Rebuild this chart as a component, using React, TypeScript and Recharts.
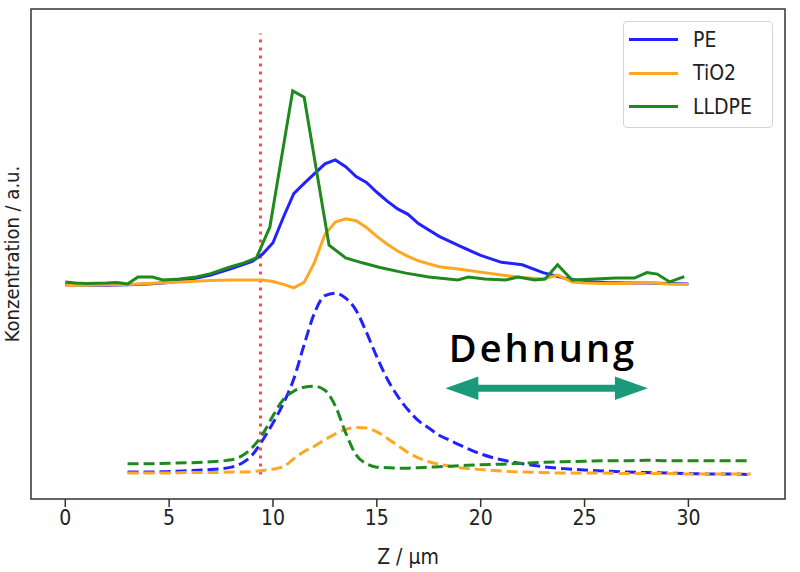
import {
  LineChart,
  Line,
  XAxis,
  YAxis,
  Legend,
  ReferenceLine,
  ReferenceArea,
  ReferenceDot,
} from "recharts";

// solid profiles (z in µm, intensity in a.u.)
const peZ = [0, 1, 2, 3, 4, 5, 6, 7, 8, 9, 9.5, 10, 10.5, 11, 11.5, 12, 12.5, 13, 13.5, 14, 14.5, 15, 15.5, 16, 16.5, 17, 18, 19, 20, 21, 22, 23, 24, 25, 26, 27, 28, 29, 30];
const peVal = [43.7, 43.6, 43.6, 43.7, 43.9, 44.2, 44.8, 45.7, 47.0, 48.5, 50.0, 52.3, 57.5, 62.3, 64.4, 66.4, 68.4, 69.2, 67.8, 65.8, 64.6, 62.6, 60.8, 59.2, 58.1, 56.2, 53.6, 51.6, 49.7, 48.3, 47.8, 46.2, 45.1, 44.4, 44.2, 44.1, 44.1, 44.0, 43.9];

const tioZ = [0, 1, 2, 3, 4, 5, 6, 7, 8, 9, 9.5, 10, 10.5, 11, 11.5, 12, 12.5, 13, 13.5, 14, 14.5, 15, 15.5, 16, 16.5, 17, 18, 19, 20, 21, 22, 23, 23.7, 24.4, 25, 26, 27, 28, 29, 30];
const tioVal = [43.6, 43.6, 43.7, 43.8, 44.0, 44.2, 44.4, 44.6, 44.7, 44.7, 44.7, 44.4, 43.8, 43.1, 44.2, 48.3, 54.0, 56.5, 57.2, 56.8, 55.4, 53.6, 52.0, 50.6, 49.5, 48.6, 47.4, 46.9, 46.3, 45.7, 45.2, 44.9, 45.7, 44.3, 44.1, 44.0, 44.0, 44.2, 43.9, 43.8];

const lldpeZ = [0, 0.5, 1, 2, 2.5, 3, 3.5, 4.2, 4.7, 5.5, 6.3, 7, 7.9, 8.6, 9.2, 9.85, 10.95, 11.5, 12.7, 13.5, 14.3, 15.1, 16.4, 17.5, 18.9, 19.4, 20.2, 21.2, 21.8, 22.6, 23.1, 23.7, 24.4, 25.5, 26.5, 27.4, 28.0, 28.5, 29.1, 29.8];
const lldpeVal = [44.3, 44.1, 44.0, 44.1, 44.2, 43.9, 45.3, 45.3, 44.7, 44.9, 45.3, 46.0, 47.3, 48.2, 49.2, 55.5, 83.3, 82.0, 51.8, 49.2, 48.2, 47.3, 46.1, 45.3, 44.7, 45.3, 44.9, 44.7, 45.3, 44.7, 44.9, 47.8, 44.7, 44.9, 45.1, 45.1, 46.2, 45.9, 44.3, 45.4];

// dashed profiles (after stretching)
const strZ = [3, 4, 5, 6, 7, 8, 8.5, 9, 9.5, 10, 10.5, 11, 11.5, 12, 12.5, 13, 13.5, 14, 14.5, 15, 15.5, 16, 16.5, 17, 17.5, 18, 18.5, 19, 20, 21, 22, 23, 24, 25, 26, 27, 28, 29, 30, 31, 32, 33];
const peStr = [5.5, 5.5, 5.6, 5.8, 6.0, 6.5, 7.3, 9.0, 12.0, 15.5, 19.5, 24.5, 31.5, 38.0, 41.5, 42.0, 41.0, 38.5, 34.0, 29.0, 24.5, 21.0, 18.2, 16.0, 14.5, 13.0, 12.0, 11.0, 9.2, 8.0, 7.2, 6.6, 6.2, 5.9, 5.7, 5.5, 5.4, 5.3, 5.2, 5.1, 5.1, 5.0];
const tioStr = [5.3, 5.3, 5.3, 5.4, 5.4, 5.5, 5.5, 5.6, 5.8, 6.1, 6.6, 8.2, 9.7, 10.8, 12.1, 13.3, 14.2, 14.6, 14.5, 13.7, 12.4, 10.9, 9.5, 8.4, 7.6, 7.1, 6.7, 6.4, 6.0, 5.7, 5.5, 5.4, 5.3, 5.3, 5.3, 5.2, 5.2, 5.2, 5.1, 5.1, 5.1, 5.1];
const lldpeStr = [7.2, 7.2, 7.3, 7.4, 7.6, 8.0, 8.8, 10.5, 13.2, 17.0, 20.3, 22.0, 22.8, 23.0, 22.2, 19.0, 13.5, 9.0, 7.2, 6.5, 6.4, 6.3, 6.3, 6.4, 6.5, 6.6, 6.7, 6.8, 7.0, 7.1, 7.3, 7.5, 7.6, 7.7, 7.8, 7.8, 7.9, 7.8, 7.8, 7.8, 7.8, 7.8];

const legendOrder = ["PE", "TiO2", "LLDPE"];
const xTicks = [0, 5, 10, 15, 20, 25, 30];
const markerZ = 9.4;

const BLUE = "#2222ff";
const ORANGE = "#ffa722";
const GREEN = "#1e8a1e";
const ARROW = "#1b9a7b";
const FONT = "'DejaVu Sans Condensed', 'DejaVu Sans', sans-serif";

const toRows = (zs: number[], vs: number[]) => zs.map((z, i) => ({ z, v: vs[i] }));

const LegendBox = (props: any) => {
  const items = (props.payload || [])
    .filter((p: any) => p.type !== "none" && legendOrder.includes(p.value))
    .sort((a: any, b: any) => legendOrder.indexOf(a.value) - legendOrder.indexOf(b.value));
  return (
    <div
      style={{
        width: 150,
        height: 107,
        boxSizing: "border-box",
        border: "1px solid #d4d4d4",
        borderRadius: 4,
        background: "rgba(255,255,255,0.85)",
        paddingTop: 1,
        fontFamily: FONT,
        fontSize: 21,
        color: "#222",
      }}
    >
      {items.map((it: any) => (
        <div
          key={it.value}
          style={{ height: 33.5, display: "flex", alignItems: "center" }}
        >
          <div
            style={{
              marginLeft: 5,
              width: 49,
              height: 3,
              background: it.color,
            }}
          />
          <span style={{ marginLeft: 15 }}>{it.value}</span>
        </div>
      ))}
    </div>
  );
};

const DoubleArrow = (p: any) => {
  const { x1, x2, y1 } = p;
  const L = 33;
  const H = 11.7;
  const t = 3.4;
  const pts = [
    [x1, y1],
    [x1 + L, y1 - H],
    [x1 + L, y1 - t],
    [x2 - L, y1 - t],
    [x2 - L, y1 - H],
    [x2, y1],
    [x2 - L, y1 + H],
    [x2 - L, y1 + t],
    [x1 + L, y1 + t],
    [x1 + L, y1 + H],
  ]
    .map((q) => q.join(","))
    .join(" ");
  return <polygon points={pts} fill={ARROW} />;
};

const YLabel = (props: any) => {
  const vb = props.viewBox || {};
  const cx = vb.x + 12;
  const cy = vb.y + vb.height / 2;
  return (
    <text
      x={cx}
      y={cy}
      transform={`rotate(-90 ${cx} ${cy})`}
      textAnchor="middle"
      dominantBaseline="central"
      fontFamily={FONT}
      fontSize={20}
      fill="#222"
    >
      Konzentration / a.u.
    </text>
  );
};

export default function App() {
  return (
    <div style={{ position: "absolute", left: 0, top: 0, background: "#fff" }}>
      <LineChart
        width={800}
        height={572}
        margin={{ top: 9, right: 15, bottom: 0, left: 0 }}
      >
        <XAxis
          dataKey="z"
          type="number"
          domain={[-1.65, 34.65]}
          ticks={xTicks}
          allowDataOverflow
          axisLine={false}
          tickSize={8}
          tickMargin={3}
          tickLine={{ stroke: "#333", strokeWidth: 1.5 }}
          tick={{ fill: "#222", fontSize: 21, fontFamily: FONT }}
          height={73}
          label={{
            value: "Z / µm",
            position: "insideBottom",
            offset: 8,
            fill: "#222",
            fontSize: 21,
            fontFamily: FONT,
          }}
        />
        <YAxis
          type="number"
          domain={[0, 100]}
          width={31}
          tick={false}
          tickLine={false}
          axisLine={false}
          label={<YLabel />}
        />
        <Legend
          layout="vertical"
          align="center"
          verticalAlign="middle"
          content={<LegendBox />}
          wrapperStyle={{ left: 623, top: 21, width: 150, height: 107 }}
        />
        <ReferenceLine
          segment={[
            { x: markerZ, y: 5 },
            { x: markerZ, y: 95 },
          ]}
          stroke="#ff4a4a"
          strokeWidth={3}
          strokeDasharray="3 5"
        />
        <Line data={toRows(peZ, peVal)} dataKey="v" name="PE" stroke={BLUE} strokeWidth={3} dot={false} isAnimationActive={false} />
        <Line data={toRows(tioZ, tioVal)} dataKey="v" name="TiO2" stroke={ORANGE} strokeWidth={3} dot={false} isAnimationActive={false} />
        <Line data={toRows(lldpeZ, lldpeVal)} dataKey="v" name="LLDPE" stroke={GREEN} strokeWidth={3} dot={false} isAnimationActive={false} />
        <Line data={toRows(strZ, peStr)} dataKey="v" name="PE gedehnt" type="monotone" legendType="none" stroke={BLUE} strokeWidth={3} strokeDasharray="11 5" dot={false} isAnimationActive={false} />
        <Line data={toRows(strZ, tioStr)} dataKey="v" name="TiO2 gedehnt" type="monotone" legendType="none" stroke={ORANGE} strokeWidth={3} strokeDasharray="11 5" dot={false} isAnimationActive={false} />
        <Line data={toRows(strZ, lldpeStr)} dataKey="v" name="LLDPE gedehnt" type="monotone" legendType="none" stroke={GREEN} strokeWidth={3} strokeDasharray="11 5" dot={false} isAnimationActive={false} />
        <ReferenceLine
          segment={[
            { x: 18.3, y: 22.6 },
            { x: 28.05, y: 22.6 },
          ]}
          shape={<DoubleArrow />}
        />
        <ReferenceDot
          x={23.0}
          y={28.0}
          r={0}
          shape={(p: any) => (
            <text
              x={p.cx}
              y={p.cy}
              textAnchor="middle"
              fontFamily="'Open Sans', sans-serif"
              fontWeight={600}
              fontSize={38}
              letterSpacing={3}
              fill="#000"
            >
              Dehnung
            </text>
          )}
        />
        <ReferenceArea
          x1={-1.65}
          x2={34.65}
          y1={0}
          y2={100}
          fill="none"
          fillOpacity={0}
          stroke="#333"
          strokeWidth={1.5}
        />
      </LineChart>
    </div>
  );
}
